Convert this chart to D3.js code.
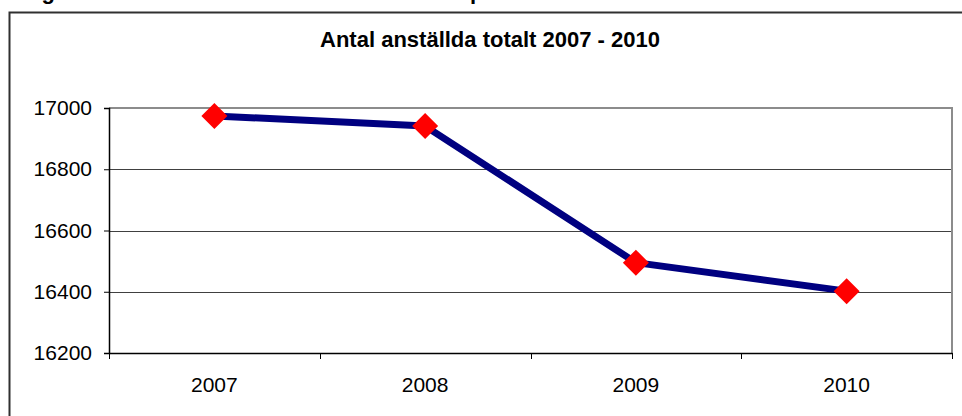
<!DOCTYPE html>
<html>
<head>
<meta charset="utf-8">
<script src="https://cdn.jsdelivr.net/npm/d3@7"></script>
<style>
  body { margin: 0; background: #fff; }
  svg { display: block; font-family: Arial, "Liberation Sans", sans-serif; }
</style>
</head>
<body>
<div id="chart"></div>
<script>
// data
const years = ["2007", "2008", "2009", "2010"];
const employees = [16974, 16941, 16495, 16402];
const yTicks = [16200, 16400, 16600, 16800, 17000];
const chartTitle = "Antal anställda totalt 2007 - 2010";

const W = 962, H = 416;
const margin = { top: 108, right: 10, bottom: 63, left: 109 };

const svg = d3.select("#chart")
  .append("svg")
  .attr("width", W)
  .attr("height", H);

// cut-off caption line above the frame (only descenders visible)
svg.append("text")
  .attr("x", 22).attr("y", -1)
  .style("font-weight", "bold").style("font-size", "22px")
  .text("Fig");
svg.append("text")
  .attr("x", 470).attr("y", -1)
  .style("font-weight", "bold").style("font-size", "22px")
  .text("p");

// outer frame
svg.append("path")
  .attr("d", `M9.5,${H} V12.5 H${W}`)
  .attr("fill", "none")
  .attr("stroke", "#303030")
  .attr("stroke-width", 2);

svg.append("text")
  .attr("x", 490).attr("y", 47)
  .attr("text-anchor", "middle")
  .style("font-weight", "bold")
  .style("font-size", "22px")
  .text(chartTitle);

const x = d3.scaleBand()
  .domain(years)
  .range([margin.left, W - margin.right])
  .padding(0);

const y = d3.scaleLinear()
  .domain([16200, 17000])
  .range([H - margin.bottom, margin.top]);

// gridlines
svg.append("g")
  .selectAll("line")
  .data(yTicks.filter(d => d > 16200 && d < 17000))
  .join("line")
  .attr("x1", margin.left).attr("x2", W - margin.right)
  .attr("y1", d => Math.round(y(d)) + 0.5).attr("y2", d => Math.round(y(d)) + 0.5)
  .attr("stroke", "#404040")
  .attr("stroke-width", 1);

// top and right plot border (gray)
svg.append("path")
  .attr("d", `M${margin.left},${y(17000)} H${W - margin.right} V${y(16200)}`)
  .attr("fill", "none")
  .attr("stroke", "#8c8c8c")
  .attr("stroke-width", 2);

// y axis
const yAxis = svg.append("g")
  .attr("transform", `translate(${margin.left},0)`)
  .call(d3.axisLeft(y).tickValues(yTicks).tickSize(5).tickPadding(12).tickFormat(d3.format("d")));
yAxis.select(".domain").attr("stroke", "#000").attr("stroke-width", 1.5);
yAxis.selectAll(".tick line").attr("stroke", "#000");
yAxis.selectAll("text")
  .style("font-size", "21px")
  .attr("fill", "#000")
  .attr("font-family", "Arial, 'Liberation Sans', sans-serif");

// x axis
const xAxis = svg.append("g")
  .attr("transform", `translate(0,${y(16200)})`)
  .call(d3.axisBottom(x).tickSize(0).tickPadding(24));
xAxis.select(".domain").attr("stroke", "#000").attr("stroke-width", 1.5);
xAxis.selectAll("text")
  .style("font-size", "21px")
  .attr("fill", "#000")
  .attr("font-family", "Arial, 'Liberation Sans', sans-serif");

// tick marks at band edges
const edges = years.map(d => x(d)).concat([x(years[years.length - 1]) + x.bandwidth()]);
svg.append("g")
  .selectAll("line")
  .data(edges)
  .join("line")
  .attr("x1", d => Math.round(d) + 0.5).attr("x2", d => Math.round(d) + 0.5)
  .attr("y1", y(16200)).attr("y2", y(16200) + 6)
  .attr("stroke", "#000");

// line
const line = d3.line()
  .x((d, i) => x(years[i]) + x.bandwidth() / 2)
  .y(d => y(d));

svg.append("path")
  .datum(employees)
  .attr("d", line)
  .attr("fill", "none")
  .attr("stroke", "#000080")
  .attr("stroke-width", 7)
  .attr("stroke-linejoin", "round");

// diamond markers
const r = 13;
svg.append("g")
  .selectAll("path")
  .data(employees)
  .join("path")
  .attr("d", (d, i) => {
    const cx = x(years[i]) + x.bandwidth() / 2, cy = y(d);
    return `M${cx},${cy - r} L${cx + r},${cy} L${cx},${cy + r} L${cx - r},${cy} Z`;
  })
  .attr("fill", "#ff0000");
</script>
</body>
</html>
